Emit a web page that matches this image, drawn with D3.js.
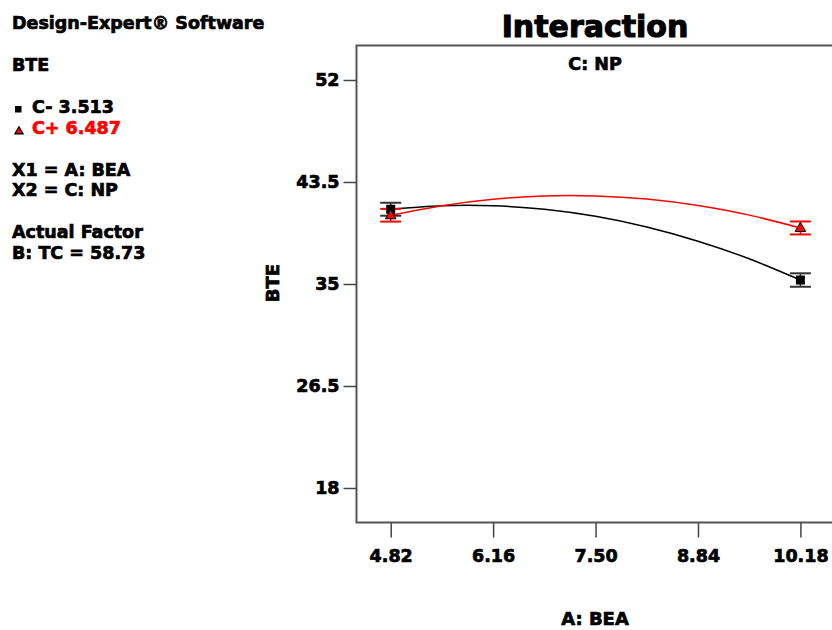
<!DOCTYPE html>
<html><head><meta charset="utf-8">
<script src="https://cdn.jsdelivr.net/npm/d3@7"></script>
<style>
body{margin:0;background:#fff;}
svg{display:block;}
text{font-family:"DejaVu Sans",sans-serif;font-weight:bold;}
</style></head>
<body>
<svg id="chart" width="832" height="630"></svg>
<script>
// ---- data ----
const xTicks = [4.82, 6.16, 7.50, 8.84, 10.18];
const xTickLabels = ["4.82", "6.16", "7.50", "8.84", "10.18"];
const yTicks = [18, 26.5, 35, 43.5, 52];
const yTickLabels = ["18", "26.5", "35", "43.5", "52"];
// predicted curve
const curveA = [4.82, 5.49, 6.16, 6.83, 7.50, 8.17, 8.84, 9.51, 10.18];
const curveLow = [41.23, 41.52, 41.52, 41.23, 40.64, 39.75, 38.57, 37.10, 35.33];
const curveHigh = [40.73, 41.53, 42.07, 42.34, 42.34, 42.08, 41.54, 40.74, 39.67];
// design points with error bars
const pointA = [4.82, 10.18];
const pointLow = [41.23, 35.33];
const pointHigh = [40.73, 39.67];
const errLow = [0.54, 0.56];
const errHigh = [0.53, 0.54];
const sideText = [
  {t:"Design-Expert® Software", y:29, c:"#000"},
  {t:"BTE", y:71, c:"#000"},
  {t:"C- 3.513", y:113, c:"#000", x:32},
  {t:"C+ 6.487", y:134, c:"#ff0000", x:32},
  {t:"X1 = A: BEA", y:176, c:"#000"},
  {t:"X2 = C: NP", y:196, c:"#000"},
  {t:"Actual Factor", y:238, c:"#000"},
  {t:"B: TC = 58.73", y:259, c:"#000"}
];

const svg = d3.select("#chart");
const pL = 356.5, pR = 834.6, pT = 45.5, pB = 522.5;
const x = d3.scaleLinear().domain([4.3725, 10.6275]).range([pL, pR]);
const y = d3.scaleLinear().domain([15.125, 54.875]).range([pB, pT]);

function heavy(sel, c, w){ return sel.attr("stroke", c).attr("stroke-width", w).attr("paint-order","stroke"); }

// side panel
heavy(svg.selectAll("text.side").data(sideText).enter().append("text")
  .attr("class","side").attr("x", d => d.x || 12).attr("y", d => d.y)
  .attr("fill", d => d.c).attr("font-size", 17.5).text(d => d.t), null, 0.7)
  .attr("stroke", d => d.c);
svg.append("rect").attr("x",15).attr("y",106).attr("width",6.5).attr("height",6.5).attr("fill","#000");
svg.append("path").attr("d", d3.symbol(d3.symbolTriangle, 30)()).attr("transform","translate(19,131.5)")
  .attr("fill","#ff0000").attr("stroke","#000").attr("stroke-width",1.2);

// titles
heavy(svg.append("text").attr("x",595).attr("y",37).attr("text-anchor","middle").attr("font-size",30).text("Interaction"), "#000", 1.1);
heavy(svg.append("text").attr("x",595).attr("y",70).attr("text-anchor","middle").attr("font-size",17.5).text("C: NP"), "#000", 0.7);

// frame
svg.append("rect").attr("x",pL).attr("y",pT).attr("width",pR-pL).attr("height",pB-pT)
  .attr("fill","none").attr("stroke","#555").attr("stroke-width",2);

// axes
const xAxis = d3.axisBottom(x).tickValues(xTicks).tickFormat((d,i)=>xTickLabels[i]).tickSize(15).tickPadding(12);
const gx = svg.append("g").attr("transform",`translate(0,${pB})`).call(xAxis);
gx.select(".domain").remove();
gx.selectAll("line").attr("stroke","#444").attr("stroke-width",1.5);
heavy(gx.selectAll("text").attr("font-size",17.5).attr("fill","#000").attr("font-family","DejaVu Sans").attr("font-weight","bold"), "#000", 0.7);

const yAxis = d3.axisLeft(y).tickValues(yTicks).tickFormat((d,i)=>yTickLabels[i]).tickSize(13).tickPadding(4);
const gy = svg.append("g").attr("transform",`translate(${pL},0)`).call(yAxis);
gy.select(".domain").remove();
gy.selectAll("line").attr("stroke","#444").attr("stroke-width",1.5);
heavy(gy.selectAll("text").attr("font-size",17.5).attr("fill","#000").attr("font-family","DejaVu Sans").attr("font-weight","bold"), "#000", 0.7);

heavy(svg.append("text").attr("x",595).attr("y",625).attr("text-anchor","middle").attr("font-size",18).text("A: BEA"), "#000", 0.7);
heavy(svg.append("text").attr("transform","translate(279,283) rotate(-90)").attr("text-anchor","middle").attr("font-size",18).text("BTE"), "#000", 0.7);

// curves
const line = d3.line().x(d=>x(d[0])).y(d=>y(d[1])).curve(d3.curveNatural);
svg.append("path").datum(curveA.map((a,i)=>[a,curveLow[i]])).attr("d",line)
  .attr("fill","none").attr("stroke","#000").attr("stroke-width",1.5);
svg.append("path").datum(curveA.map((a,i)=>[a,curveHigh[i]])).attr("d",line)
  .attr("fill","none").attr("stroke","#ff0000").attr("stroke-width",1.5);

function errBars(vals, errs, color){
  const g = svg.append("g");
  pointA.forEach((a,i)=>{
    const cx = x(a), y1 = y(vals[i]+errs[i]), y2 = y(vals[i]-errs[i]);
    g.append("line").attr("x1",cx).attr("x2",cx).attr("y1",y1).attr("y2",y2).attr("stroke",color).attr("stroke-width",1.5);
    [y1,y2].forEach(yy=>g.append("line").attr("x1",cx-10.5).attr("x2",cx+10.5).attr("y1",yy).attr("y2",yy)
      .attr("stroke",color).attr("stroke-width",2));
  });
}
errBars(pointHigh, errHigh, "#ff0000");
errBars(pointLow, errLow, "#333");

// markers
svg.selectAll("rect.pl").data(pointA).enter().append("rect").attr("class","pl")
  .attr("x",(d)=>x(d)-4.5).attr("y",(d,i)=>y(pointLow[i])-4.5).attr("width",9).attr("height",9).attr("fill","#000");
svg.selectAll("path.ph").data(pointA).enter().append("path").attr("class","ph")
  .attr("d", d3.symbol(d3.symbolTriangle, 48)())
  .attr("transform",(d,i)=>`translate(${x(d)},${y(pointHigh[i])+0.5})`)
  .attr("fill","#ff0000").attr("stroke","#000").attr("stroke-width",1);
</script>
</body></html>
